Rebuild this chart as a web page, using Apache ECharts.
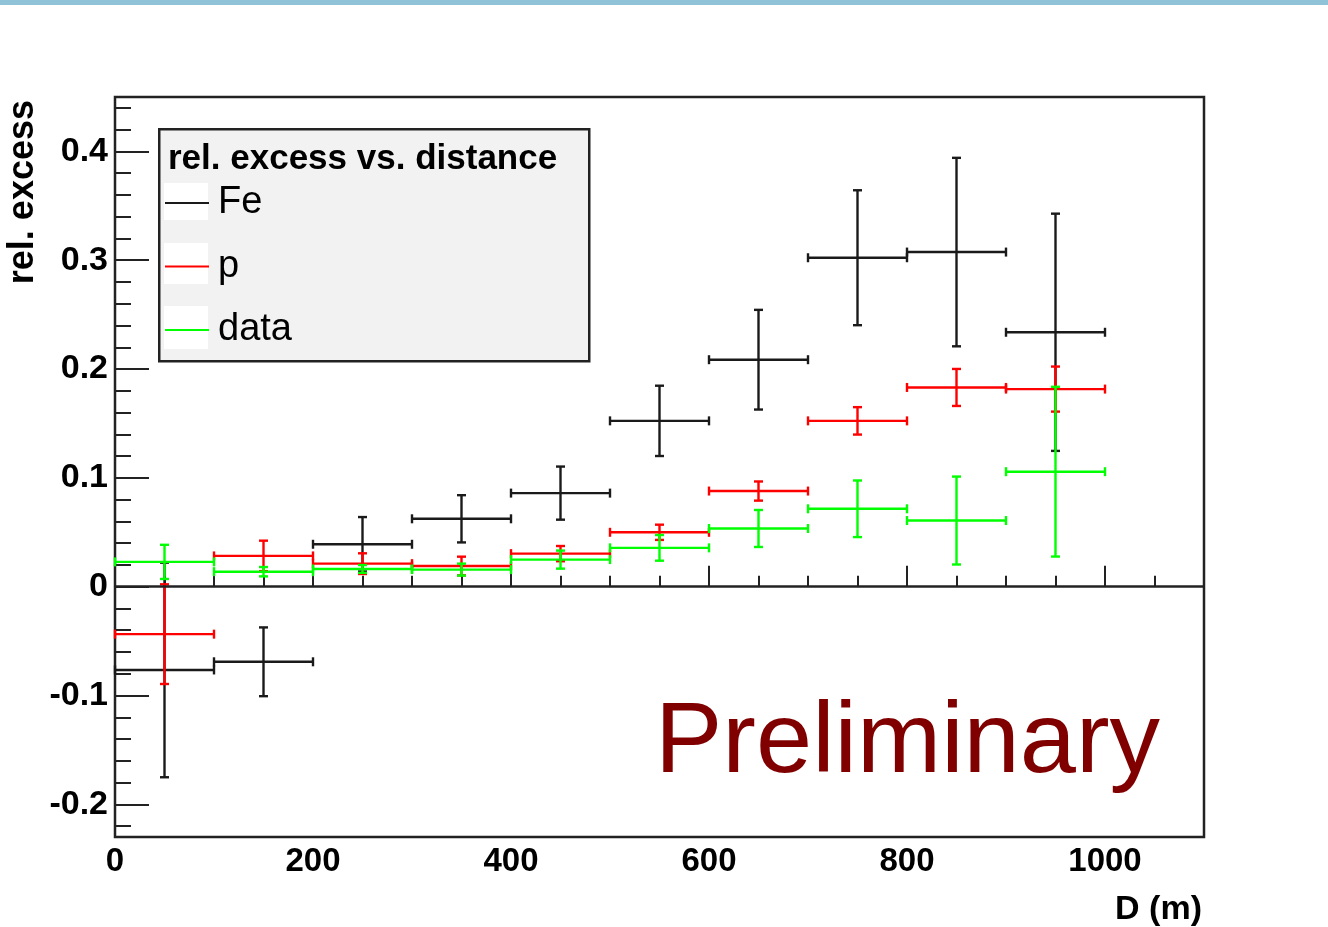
<!DOCTYPE html>
<html>
<head>
<meta charset="utf-8">
<script src="https://cdn.jsdelivr.net/npm/echarts@6/dist/echarts.min.js"></script>
<style>
html,body{margin:0;padding:0;background:#fff;}
#chart{width:1328px;height:927px;}
</style>
</head>
<body>
<div id="chart"></div>
<script>
// ---- data ----
const binCenters   = [50, 150, 250, 350, 450, 550, 650, 750, 850, 950];
const binHalfWidth = [50, 50, 50, 50, 50, 50, 50, 50, 50, 50];

const feValues  = [-0.0765, -0.069, 0.039, 0.0624, 0.086, 0.1524, 0.2086, 0.3023, 0.3075, 0.2338];
const feErrors  = [0.0986, 0.0316, 0.025, 0.0217, 0.0244, 0.0323, 0.0458, 0.062, 0.0866, 0.109];

const pValues   = [-0.0436, 0.0283, 0.0212, 0.019, 0.0304, 0.050, 0.0879, 0.1524, 0.1831, 0.1816];
const pErrors   = [0.0458, 0.014, 0.0095, 0.0086, 0.007, 0.007, 0.0088, 0.0126, 0.017, 0.0207];

const dataValues = [0.0228, 0.0138, 0.0163, 0.0157, 0.0249, 0.0357, 0.0535, 0.0716, 0.0608, 0.1057];
const dataErrors = [0.0157, 0.0043, 0.0036, 0.0055, 0.0083, 0.0118, 0.017, 0.026, 0.0404, 0.078];

const yMajorTicks = [-0.2, -0.1, 0, 0.1, 0.2, 0.3, 0.4];
const yMinorTicks = [-0.22, -0.2, -0.18, -0.16, -0.14, -0.12, -0.1, -0.08, -0.06, -0.04, -0.02, 0,
                     0.02, 0.04, 0.06, 0.08, 0.1, 0.12, 0.14, 0.16, 0.18, 0.2, 0.22, 0.24, 0.26,
                     0.28, 0.3, 0.32, 0.34, 0.36, 0.38, 0.4, 0.42, 0.44];
const xMajorTicks = [0, 200, 400, 600, 800, 1000];
const xMinorTicks = [0, 50, 100, 150, 200, 250, 300, 350, 400, 450, 500, 550, 600, 650, 700,
                     750, 800, 850, 900, 950, 1000, 1050, 1100];

const FONT = "'Liberation Sans', Arial, Helvetica, sans-serif";

function build(values, errors) {
  return binCenters.map((c, i) => [c, values[i], binHalfWidth[i], errors[i]]);
}

function errRender(color) {
  return function (params, api) {
    const x = api.value(0), y = api.value(1), ex = api.value(2), ey = api.value(3);
    const c = api.coord([x, y]);
    const l = api.coord([x - ex, y]);
    const r = api.coord([x + ex, y]);
    const t = api.coord([x, y + ey]);
    const b = api.coord([x, y - ey]);
    const cap = 4.5;
    const st = { stroke: color, lineWidth: 2.4 };
    const seg = (x1, y1, x2, y2) => ({ type: 'line', shape: { x1, y1, x2, y2 }, style: st });
    return {
      type: 'group',
      children: [
        seg(l[0], c[1], r[0], c[1]),
        seg(c[0], t[1], c[0], b[1]),
        seg(l[0], c[1] - cap, l[0], c[1] + cap),
        seg(r[0], c[1] - cap, r[0], c[1] + cap),
        seg(c[0] - cap, t[1], c[0] + cap, t[1]),
        seg(c[0] - cap, b[1], c[0] + cap, b[1])
      ]
    };
  };
}

const chart = echarts.init(document.getElementById('chart'), null, { renderer: 'canvas' });

const axisTickColor = '#222';

const option = {
  animation: false,
  backgroundColor: '#ffffff',
  grid: {
    left: 115, right: 124, top: 97, bottom: 90,
    show: true, borderColor: '#222', borderWidth: 2.5, backgroundColor: '#ffffff'
  },
  xAxis: [
    {
      type: 'value', min: 0, max: 1100, position: 'bottom',
      axisLine: { show: false }, splitLine: { show: false },
      axisTick: { show: true, inside: true, length: 21, customValues: xMajorTicks,
                  lineStyle: { color: axisTickColor, width: 2 } },
      axisLabel: { show: true, customValues: xMajorTicks, margin: 8, color: '#000',
                   fontSize: 33, fontWeight: 'bold', fontFamily: FONT,
                   formatter: v => String(v) }
    },
    {
      type: 'value', min: 0, max: 1100, position: 'bottom',
      axisLine: { show: false }, splitLine: { show: false },
      axisTick: { show: true, inside: true, length: 11, customValues: xMinorTicks,
                  lineStyle: { color: axisTickColor, width: 2 } },
      axisLabel: { show: false }
    }
  ],
  yAxis: [
    {
      type: 'value', min: -0.23, max: 0.45, position: 'left',
      axisLine: { show: false }, splitLine: { show: false },
      axisTick: { show: true, inside: true, length: 34, customValues: yMajorTicks,
                  lineStyle: { color: axisTickColor, width: 2 } },
      axisLabel: { show: true, customValues: yMajorTicks, margin: 7, color: '#000',
                   fontSize: 34, fontWeight: 'bold', fontFamily: FONT,
                   formatter: v => String(v) }
    },
    {
      type: 'value', min: -0.23, max: 0.45, position: 'left',
      axisLine: { show: false }, splitLine: { show: false },
      axisTick: { show: true, inside: true, length: 16, customValues: yMinorTicks,
                  lineStyle: { color: axisTickColor, width: 2 } },
      axisLabel: { show: false }
    }
  ],
  legend: {
    orient: 'vertical', left: 165, top: 181, padding: 0, z: 6,
    itemWidth: 44, itemHeight: 2, itemGap: 19.5, icon: 'rect',
    selectedMode: false,
    textStyle: { fontSize: 38, fontFamily: FONT, color: '#000', lineHeight: 44, padding: [0, 0, 0, 4] },
    data: ['Fe', 'p', 'data']
  },
  graphic: [
    { type: 'rect', left: 0, top: 0, z: 10, shape: { width: 1328, height: 5 },
      style: { fill: '#90c2d8' } },
    { type: 'rect', left: 158, top: 128, z: 3, shape: { width: 430, height: 232 },
      style: { fill: '#f2f2f2', stroke: '#222', lineWidth: 2.5 } },
    { type: 'rect', left: 164, top: 183, z: 4, shape: { width: 44, height: 37 }, style: { fill: '#ffffff' } },
    { type: 'rect', left: 164, top: 243, z: 4, shape: { width: 44, height: 41 }, style: { fill: '#ffffff' } },
    { type: 'rect', left: 164, top: 306, z: 4, shape: { width: 44, height: 43 }, style: { fill: '#ffffff' } },
    { type: 'text', x: 168, y: 159, z: 6,
      style: { text: 'rel. excess vs. distance', font: "bold 35px 'Liberation Sans', Arial, sans-serif",
               fill: '#000', textAlign: 'left', textVerticalAlign: 'middle' } },
    { type: 'text', x: 655, y: 744, z: 6,
      style: { text: 'Preliminary', font: "101px 'Liberation Sans', Arial, sans-serif",
               fill: '#800000', textAlign: 'left', textVerticalAlign: 'middle' } },
    { type: 'text', x: 41, y: 100, z: 6, rotation: Math.PI / 2,
      style: { text: 'rel. excess', font: "bold 36px 'Liberation Sans', Arial, sans-serif",
               fill: '#000', textAlign: 'right', textVerticalAlign: 'bottom' } },
    { type: 'text', x: 1202, y: 910, z: 6,
      style: { text: 'D (m)', font: "bold 34px 'Liberation Sans', Arial, sans-serif",
               fill: '#000', textAlign: 'right', textVerticalAlign: 'middle' } }
  ],
  series: [
    {
      name: 'Fe', type: 'custom', xAxisIndex: 0, yAxisIndex: 0,
      itemStyle: { color: '#1a1a1a' },
      renderItem: errRender('#1a1a1a'),
      data: build(feValues, feErrors),
      encode: { x: 0, y: 1 },
      markLine: {
        silent: true, symbol: 'none', label: { show: false },
        lineStyle: { color: '#222', width: 2.5, type: 'solid' },
        data: [{ yAxis: 0 }]
      }
    },
    {
      name: 'p', type: 'custom', xAxisIndex: 0, yAxisIndex: 0,
      itemStyle: { color: '#ff0000' },
      renderItem: errRender('#ff0000'),
      data: build(pValues, pErrors),
      encode: { x: 0, y: 1 }
    },
    {
      name: 'data', type: 'custom', xAxisIndex: 0, yAxisIndex: 0,
      itemStyle: { color: '#00ff00' },
      renderItem: errRender('#00ff00'),
      data: build(dataValues, dataErrors),
      encode: { x: 0, y: 1 }
    }
  ]
};

chart.setOption(option);
</script>
</body>
</html>
